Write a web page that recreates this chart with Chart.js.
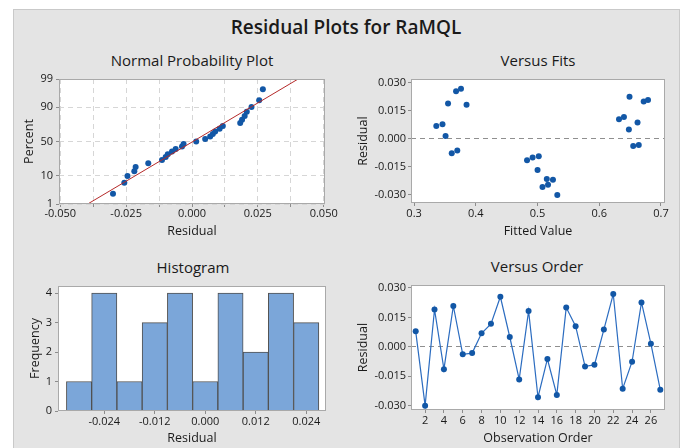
<!DOCTYPE html>
<html>
<head>
<meta charset="utf-8">
<title>Residual Plots for RaMQL</title>
<script src="https://cdn.jsdelivr.net/npm/chart.js@4.4.1/dist/chart.umd.min.js"></script>
<style>
  html, body { margin: 0; padding: 0; background: #fff; width: 685px; height: 448px; overflow: hidden; }
  body { position: relative; font-family: "Open Sans", "Noto Sans", sans-serif; color: #1a1a1a; }
  #panel { position: absolute; left: 13px; top: 9px; width: 667px; height: 450px; background: #e4e4e4;
           border: 1px solid #c9c9c9; box-sizing: border-box; }
  .title { position: absolute; text-align: center; white-space: nowrap; }
  #mainTitle { left: 196px; width: 300px; top: 15px; font-size: 19px; line-height: 24px; font-weight: 600; }
  .sub { width: 300px; font-size: 15px; line-height: 18px; }
  canvas { position: absolute; }
</style>
</head>
<body>
<div id="panel"></div>
<div id="mainTitle" class="title">Residual Plots for RaMQL</div>
<div class="title sub" style="left:42px; top:51px;">Normal Probability Plot</div>
<div class="title sub" style="left:388px; top:51px;">Versus Fits</div>
<div class="title sub" style="left:43px; top:258px;">Histogram</div>
<div class="title sub" style="left:387px; top:257px;">Versus Order</div>

<canvas id="npChart" width="326" height="200" style="left:14px; top:45px;"></canvas>
<canvas id="fitsChart" width="340" height="200" style="left:340px; top:45px;"></canvas>
<canvas id="histChart" width="326" height="198" style="left:14px; top:250px;"></canvas>
<canvas id="orderChart" width="340" height="198" style="left:340px; top:250px;"></canvas>

<script>
// Residuals in observation order
const observation = [1, 2, 3, 4, 5, 6, 7, 8, 9, 10, 11, 12, 13, 14, 15, 16, 17, 18, 19, 20, 21, 22, 23, 24, 25, 26, 27];
const residuals = [0.0079, -0.0300, 0.0190, -0.0114, 0.0208, -0.0038, -0.0032, 0.0069, 0.0117, 0.0255,
                   0.0050, -0.0166, 0.0183, -0.0257, -0.0062, -0.0245, 0.0200, 0.0105, -0.0100, -0.0092,
                   0.0088, 0.0269, -0.0214, -0.0076, 0.0226, 0.0016, -0.0219];
// Fitted values for the same observations (read from Versus Fits)
const fitted = [0.346, 0.532, 0.355, 0.483, 0.679, 0.655, 0.664, 0.336, 0.640, 0.368,
                0.648, 0.500, 0.385, 0.508, 0.370, 0.517, 0.672, 0.632, 0.492, 0.502,
                0.662, 0.376, 0.515, 0.361, 0.649, 0.351, 0.525];

// Histogram bins (centres) and counts
const histCenters = [-0.030, -0.024, -0.018, -0.012, -0.006, 0.000, 0.006, 0.012, 0.018, 0.024];
const histCounts = [1, 4, 1, 3, 4, 1, 4, 2, 4, 3];

// Normal probability plot: plotting percent of each sorted residual, and the fitted line ends
const npPercent = [2.6, 6.2, 9.9, 13.5, 17.2, 20.8, 24.5, 28.1, 31.8, 35.4, 39.1, 42.7, 46.4, 50.0,
                   53.6, 57.3, 61.0, 64.6, 68.2, 71.9, 75.5, 79.2, 82.8, 86.5, 90.1, 93.8, 97.4];
const npLineX = [-0.0396, 0.0403];
const npLinePct = [1, 99];

// Tick values
const npYTicks = [1, 10, 50, 90, 99];
const npXGrid = [-0.050, -0.0375, -0.025, -0.0125, 0.000, 0.0125, 0.025, 0.0375, 0.050];
const npXTicks = [-0.050, -0.025, 0.000, 0.025, 0.050];
const residTicks = [-0.030, -0.015, 0.000, 0.015, 0.030];
const fitTicks = [0.3, 0.4, 0.5, 0.6, 0.7];
const orderTicks = [2, 4, 6, 8, 10, 12, 14, 16, 18, 20, 22, 24, 26];
const histXTicks = [-0.024, -0.012, 0.000, 0.012, 0.024];
const histYTicks = [0, 1, 2, 3, 4];

const BLUE = '#1257a6';
const GRID = '#d6d6d6';
const BOX = '#a9a9a9';

Chart.defaults.font.family = '"Open Sans", "Noto Sans", sans-serif';
Chart.defaults.font.size = 11;
Chart.defaults.color = '#1a1a1a';
Chart.defaults.animation = false;
Chart.defaults.responsive = false;
Chart.defaults.plugins.legend.display = false;
Chart.defaults.plugins.tooltip.enabled = false;

// inverse normal cdf (Acklam) - used for the probability scale
function probit(p) {
    var a = [-3.969683028665376e+01, 2.209460984245205e+02, -2.759285104469687e+02, 1.383577518672690e+02, -3.066479806614716e+01, 2.506628277459239e+00];
    var b = [-5.447609879822406e+01, 1.615858368580409e+02, -1.556989798598866e+02, 6.680131188771972e+01, -1.328068155288572e+01];
    var c = [-7.784894002430293e-03, -3.223964580411365e-01, -2.400758277161838e+00, -2.549732539343734e+00, 4.374664141464968e+00, 2.938163982698783e+00];
    var d = [7.784695709041462e-03, 3.224671290700398e-01, 2.445134137142996e+00, 3.754408661907416e+00];
    var pl = 0.02425, q, r;
    if (p < pl) {
        q = Math.sqrt(-2 * Math.log(p));
        return (((((c[0] * q + c[1]) * q + c[2]) * q + c[3]) * q + c[4]) * q + c[5]) / ((((d[0] * q + d[1]) * q + d[2]) * q + d[3]) * q + 1);
    }
    if (p > 1 - pl) {
        q = Math.sqrt(-2 * Math.log(1 - p));
        return -(((((c[0] * q + c[1]) * q + c[2]) * q + c[3]) * q + c[4]) * q + c[5]) / ((((d[0] * q + d[1]) * q + d[2]) * q + d[3]) * q + 1);
    }
    q = p - 0.5; r = q * q;
    return (((((a[0] * r + a[1]) * r + a[2]) * r + a[3]) * r + a[4]) * r + a[5]) * q / (((((b[0] * r + b[1]) * r + b[2]) * r + b[3]) * r + b[4]) * r + 1);
}

// white plot area with a grey frame
const plotBox = {
    id: 'plotBox',
    beforeDraw: function (chart) {
        var a = chart.chartArea, ctx = chart.ctx;
        ctx.save();
        ctx.fillStyle = '#fff';
        ctx.fillRect(a.left, a.top, a.right - a.left, a.bottom - a.top);
        ctx.restore();
    },
    afterDraw: function (chart) {
        var a = chart.chartArea, ctx = chart.ctx;
        ctx.save();
        ctx.strokeStyle = BOX;
        ctx.lineWidth = 1;
        ctx.strokeRect(Math.round(a.left) + 0.5, Math.round(a.top) + 0.5, Math.round(a.right - a.left) - 1, Math.round(a.bottom - a.top) - 1);
        ctx.restore();
    }
};

// build one axis; o = {min, max, ticks, label, size, title, pad, grid, zeroLine}
function makeAxis(isX, o) {
    var axis = {
        type: 'linear',
        position: isX ? 'bottom' : 'left',
        min: o.min,
        max: o.max,
        offset: false,
        afterBuildTicks: function (scale) {
            scale.ticks = o.ticks.map(function (v) { return { value: v }; });
        },
        afterFit: function (scale) {
            if (isX) scale.height = o.size; else scale.width = o.size;
        },
        ticks: {
            autoSkip: false,
            maxRotation: 0,
            padding: o.tickPad === undefined ? 2 : o.tickPad,
            callback: o.label
        },
        grid: {
            offset: false,
            drawOnChartArea: !!(o.grid || o.zeroLine),
            tickLength: 3,
            tickColor: '#8c8c8c',
            tickBorderDash: [],
            color: function (ctx) {
                if (o.zeroLine) return ctx.tick && ctx.tick.value === 0 ? '#8f8f8f' : 'rgba(0,0,0,0)';
                return GRID;
            }
        },
        border: { display: false, dash: [5, 4] },
        title: {
            display: true,
            text: o.title,
            font: { size: 12.5 },
            color: '#1a1a1a',
            padding: isX ? { top: 0, bottom: o.pad } : { top: o.pad, bottom: 0 }
        }
    };
    return axis;
}

function fmt3(v) { return v.toFixed(3); }

// Normal probability plot
var npSorted = residuals.slice().sort(function (a, b) { return a - b; });
new Chart(document.getElementById('npChart'), {
    type: 'scatter',
    data: {
        datasets: [{
            type: 'line',
            data: npLineX.map(function (x, i) { return { x: x, y: probit(npLinePct[i] / 100) }; }),
            borderColor: '#b52a2a',
            borderWidth: 1,
            pointRadius: 0
        }, {
            data: npSorted.map(function (x, i) { return { x: x, y: probit(npPercent[i] / 100) }; }),
            pointRadius: 3,
            pointBackgroundColor: BLUE,
            pointBorderColor: BLUE,
            pointBorderWidth: 0
        }]
    },
    options: {
        layout: { padding: { top: 34, right: 15, left: 0, bottom: 0 } },
        scales: {
            x: makeAxis(true, {
                min: -0.0505, max: 0.0505, ticks: npXGrid, size: 41, title: 'Residual', pad: 6.5, grid: true, tickPad: 0,
                label: function (v) { return npXTicks.indexOf(v) >= 0 ? fmt3(v) : ''; }
            }),
            y: makeAxis(false, {
                min: probit(0.01), max: probit(0.99), ticks: npYTicks.map(function (p) { return probit(p / 100); }),
                size: 45, title: 'Percent', pad: 7.5, grid: true, tickPad: 3,
                label: function (v, i) { return String(npYTicks[i]); }
            })
        }
    },
    plugins: [plotBox]
});

// Versus fits
new Chart(document.getElementById('fitsChart'), {
    type: 'scatter',
    data: {
        datasets: [{
            data: fitted.map(function (f, i) { return { x: f, y: residuals[i] }; }),
            pointRadius: 3,
            pointBackgroundColor: BLUE,
            pointBorderColor: BLUE,
            pointBorderWidth: 0
        }]
    },
    options: {
        layout: { padding: { top: 34, right: 15, left: 0, bottom: 0 } },
        scales: {
            x: makeAxis(true, {
                min: 0.295, max: 0.7065, ticks: fitTicks, size: 42, title: 'Fitted Value', pad: 6.5, tickPad: 1,
                label: function (v) { return v.toFixed(1); }
            }),
            y: makeAxis(false, {
                min: -0.0343, max: 0.0321, ticks: residTicks, size: 71, title: 'Residual', pad: 15.5, zeroLine: true,
                label: fmt3
            })
        }
    },
    plugins: [plotBox]
});

// Histogram
new Chart(document.getElementById('histChart'), {
    type: 'bar',
    data: {
        datasets: [{
            data: histCenters.map(function (c, i) { return { x: c, y: histCounts[i] }; }),
            backgroundColor: '#7ba6d9',
            borderColor: '#505050',
            borderWidth: 1,
            barPercentage: 1,
            categoryPercentage: 1
        }]
    },
    options: {
        layout: { padding: { top: 36, right: 14, left: 0, bottom: 0 } },
        scales: {
            x: makeAxis(true, {
                min: -0.035, max: 0.0287, ticks: histXTicks, size: 37, title: 'Residual', pad: 2.5, tickPad: 1,
                label: fmt3
            }),
            y: makeAxis(false, {
                min: 0, max: 4.24, ticks: histYTicks, size: 44, title: 'Frequency', pad: 13.5, tickPad: 3,
                label: function (v) { return String(v); }
            })
        }
    },
    plugins: [plotBox]
});

// Versus order
new Chart(document.getElementById('orderChart'), {
    type: 'line',
    data: {
        datasets: [{
            data: observation.map(function (n, i) { return { x: n, y: residuals[i] }; }),
            borderColor: '#2b6cc0',
            borderWidth: 1.2,
            tension: 0,
            pointRadius: 3,
            pointBackgroundColor: BLUE,
            pointBorderColor: BLUE,
            pointBorderWidth: 0
        }]
    },
    options: {
        layout: { padding: { top: 35, right: 15, left: 0, bottom: 0 } },
        scales: {
            x: makeAxis(true, {
                min: 0.5, max: 27.5, ticks: orderTicks, size: 38, title: 'Observation Order', pad: 2.5, tickPad: 1,
                label: function (v) { return String(v); }
            }),
            y: makeAxis(false, {
                min: -0.0322, max: 0.0315, ticks: residTicks, size: 71, title: 'Residual', pad: 15.5, zeroLine: true,
                label: fmt3
            })
        }
    },
    plugins: [plotBox]
});
</script>
</body>
</html>
